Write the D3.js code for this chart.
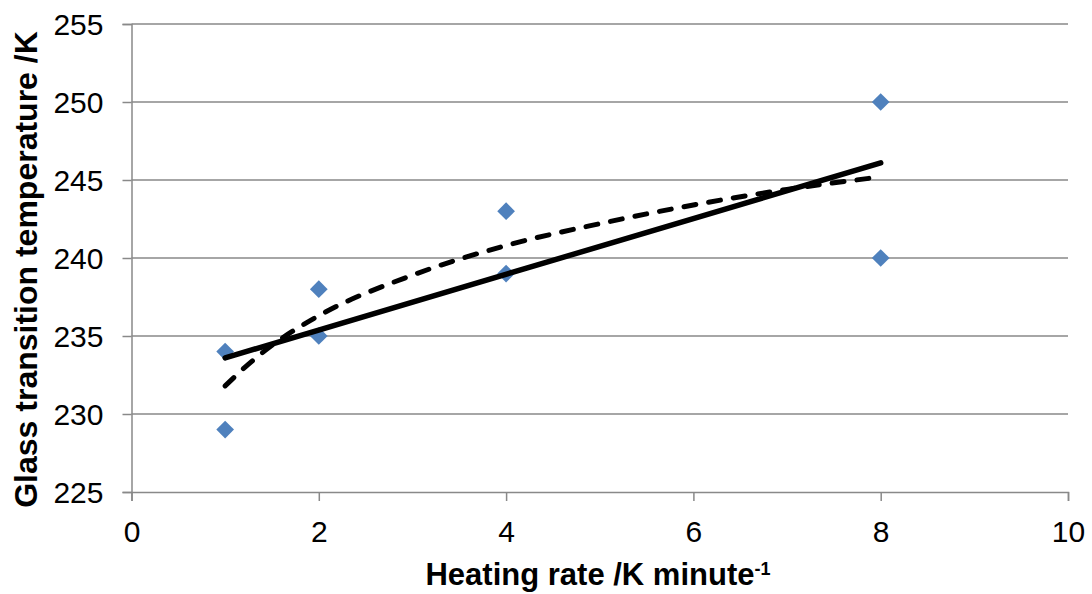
<!DOCTYPE html>
<html><head><meta charset="utf-8">
<script src="https://cdn.jsdelivr.net/npm/d3@7"></script>
<style>body{margin:0;background:#fff}svg{display:block;font-family:"Liberation Sans",Arial,sans-serif}</style>
</head><body>
<svg id="c" width="1092" height="594"></svg>
<script>
// scatter data
const heatingRate = [1, 1, 2, 2, 4, 4, 8, 8];
const glassTemp = [234, 229, 238, 235, 243, 239, 250, 240];
// linear trend line
const linX = [1, 8];
const linY = [233.6, 246.1];
// logarithmic trend line
const logX = [1, 1.25, 1.5, 2, 3, 4, 5, 6, 7, 8];
const logY = [231.8, 233.2, 234.4, 236.3, 238.9, 240.8, 242.2, 243.4, 244.4, 245.2];
const xTicks = [0, 2, 4, 6, 8, 10];
const yTicks = [225, 230, 235, 240, 245, 250, 255];

const svg = d3.select("#c");
const L = 131.5, R = 1068, T = 24, B = 492;
const x = d3.scaleLinear().domain([0, 10]).range([L, R]);
const y = d3.scaleLinear().domain([225, 255]).range([B, T]);

// gridlines
svg.append("g").selectAll("line").data(yTicks.filter(d => d !== 225)).join("line")
  .attr("x1", L).attr("x2", R).attr("y1", d => y(d)).attr("y2", d => y(d))
  .attr("stroke", "#898989").attr("stroke-width", 1.3);

// y axis
const gy = svg.append("g").attr("transform", `translate(${L},0)`)
  .call(d3.axisLeft(y).tickValues(yTicks).tickSize(9).tickPadding(19));
// x axis
const gx = svg.append("g").attr("transform", `translate(0,${B})`)
  .call(d3.axisBottom(x).tickValues(xTicks).tickSize(9).tickPadding(20));
[gx, gy].forEach(g => {
  g.select(".domain").attr("stroke", "#898989").attr("stroke-width", 1.5);
  g.selectAll(".tick line").attr("stroke", "#898989").attr("stroke-width", 1.5);
  g.selectAll(".tick text").attr("fill", "#000").style("font-size", "30px")
    .style("font-family", '"Liberation Sans",Arial,sans-serif');
});
gy.selectAll(".tick text").attr("dy", "0.36em");

// points
svg.append("g").selectAll("path").data(heatingRate.map((d, i) => [d, glassTemp[i]])).join("path")
  .attr("d", d3.symbol().type(d3.symbolDiamond2).size(200))
  .attr("transform", d => `translate(${x(d[0])},${y(d[1])})`)
  .attr("fill", "#4f81bd");

// linear trend
svg.append("path").datum(linX.map((d, i) => [d, linY[i]]))
  .attr("d", d3.line().x(d => x(d[0])).y(d => y(d[1])))
  .attr("fill", "none").attr("stroke", "#000").attr("stroke-width", 5.5).attr("stroke-linecap", "round");

// log trend
svg.append("path").datum(logX.map((d, i) => [d, logY[i]]))
  .attr("d", d3.line().x(d => x(d[0])).y(d => y(d[1])).curve(d3.curveMonotoneX))
  .attr("fill", "none").attr("stroke", "#000").attr("stroke-width", 5)
  .attr("stroke-dasharray", "12 13").attr("stroke-linecap", "round");

// axis titles
svg.append("text").attr("x", 598).attr("y", 585).attr("text-anchor", "middle")
  .style("font-size", "31px").style("font-weight", "bold")
  .html('Heating rate /K minute<tspan dy="-10" font-size="18px">-1</tspan>');
svg.append("text").attr("transform", `translate(37,269.5) rotate(-90)`)
  .attr("text-anchor", "middle").style("font-size", "32px").style("font-weight", "bold")
  .text("Glass transition temperature /K");
</script>
</body></html>
